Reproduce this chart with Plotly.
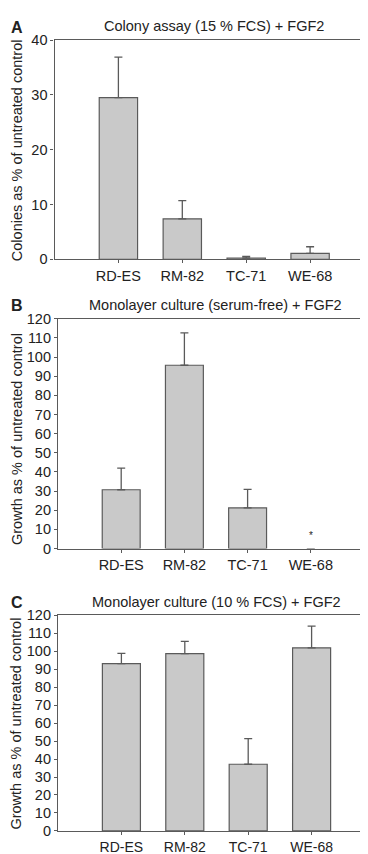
import plotly.graph_objects as go

W, H = 368, 854

categories = ["RD-ES", "RM-82", "TC-71", "WE-68"]

# Panel A: Colony assay (15 % FCS) + FGF2
a_values = [29.5, 7.4, 0.25, 1.1]
a_errors = [7.4, 3.3, 0.3, 1.2]

# Panel B: Monolayer culture (serum-free) + FGF2 (WE-68: no growth, marked *)
b_values = [30.7, 95.7, 21.2, 0.0]
b_errors = [11.3, 16.9, 9.7, 0.0]

# Panel C: Monolayer culture (10 % FCS) + FGF2
c_values = [93.1, 98.6, 37.1, 101.9]
c_errors = [5.7, 6.9, 14.3, 12.1]

titles = ["Colony assay (15 % FCS) + FGF2",
          "Monolayer culture (serum-free) + FGF2",
          "Monolayer culture (10 % FCS) + FGF2"]
ytitles = ["Colonies as % of untreated control",
           "Growth as % of untreated control",
           "Growth as % of untreated control"]
letters = ["A", "B", "C"]
yranges = [[0, 40], [0, 120], [0, 120]]

FONT = "Liberation Sans, Arial, sans-serif"
FS = 14.5
TXT = "#222222"
LINE = "#5a5a5a"
FILL = "#c9c9c9"

# pixel boxes: (left, right, top, bottom)
boxes = [(46.5, 366, 24.5, 248), (50, 366, 308.5, 542.7), (50, 367, 610.7, 830.5)]

fig = go.Figure()
data = [(a_values, a_errors), (b_values, b_errors), (c_values, c_errors)]
for i, (vals, errs) in enumerate(data):
    xa = "x" if i == 0 else f"x{i+1}"
    ya = "y" if i == 0 else f"y{i+1}"
    lw = [1.2 if v > 0 else 0 for v in vals]
    fig.add_trace(go.Bar(
        x=categories, y=vals, xaxis=xa, yaxis=ya, width=0.6,
        marker=dict(color=FILL, line=dict(color=LINE, width=lw)),
        error_y=dict(type="data", symmetric=False,
                     array=[e if e > 0 else None for e in errs],
                     arrayminus=[0] * len(errs), color=LINE,
                     thickness=1.3, width=4),
        showlegend=False, hoverinfo="skip"))

annotations = []
for i in range(3):
    l, r, t, b = boxes[i]
    sfx = "" if i == 0 else str(i + 1)
    fig.layout["xaxis" + sfx] = dict(
        domain=[l / W, r / W], anchor="y" + sfx, range=[-1, 4],
        showline=True, linecolor=LINE, linewidth=1.2, mirror=True,
        ticks="outside", ticklen=3, tickcolor=LINE, showgrid=False,
        tickfont=dict(family=FONT, size=FS if i < 2 else 14, color=TXT),
        fixedrange=True)
    fig.layout["yaxis" + sfx] = dict(
        domain=[1 - b / H, 1 - t / H], anchor="x" + sfx, range=yranges[i],
        dtick=10, showline=True, linecolor=LINE, linewidth=1.2, mirror=True,
        ticks="outside", ticklen=3, tickcolor=LINE, showgrid=False,
        zeroline=False, tickfont=dict(family=FONT, size=FS, color=TXT),
        fixedrange=True)
    annotations.append(dict(
        text=titles[i], xref="paper", yref="paper",
        x=(l + r) / 2 / W, y=1 - (t - 14) / H, xanchor="center", yanchor="middle",
        showarrow=False, font=dict(family=FONT, size=FS, color=TXT)))
    annotations.append(dict(
        text="<b>" + letters[i] + "</b>", xref="paper", yref="paper",
        x=1 / W, y=1 - (t - 13) / H, xanchor="left", yanchor="middle",
        showarrow=False, font=dict(family=FONT, size=16, color=TXT)))
    annotations.append(dict(
        text=ytitles[i], xref="paper", yref="paper", textangle=-90,
        x=8.5 / W, y=1 - ((t + b) / 2 + (6 if i == 1 else 1)) / H,
        xanchor="center", yanchor="middle",
        showarrow=False, font=dict(family=FONT, size=FS, color=TXT)))

# asterisk on WE-68 in panel B
annotations.append(dict(text="*", xref="x2", yref="y2", x="WE-68", y=7.0,
                        showarrow=False, font=dict(family=FONT, size=10, color=TXT)))

fig.update_layout(width=W, height=H, margin=dict(l=0, r=0, t=0, b=0),
                  paper_bgcolor="white", plot_bgcolor="white",
                  annotations=annotations, bargap=0.4)

fig.write_html("out.html")
